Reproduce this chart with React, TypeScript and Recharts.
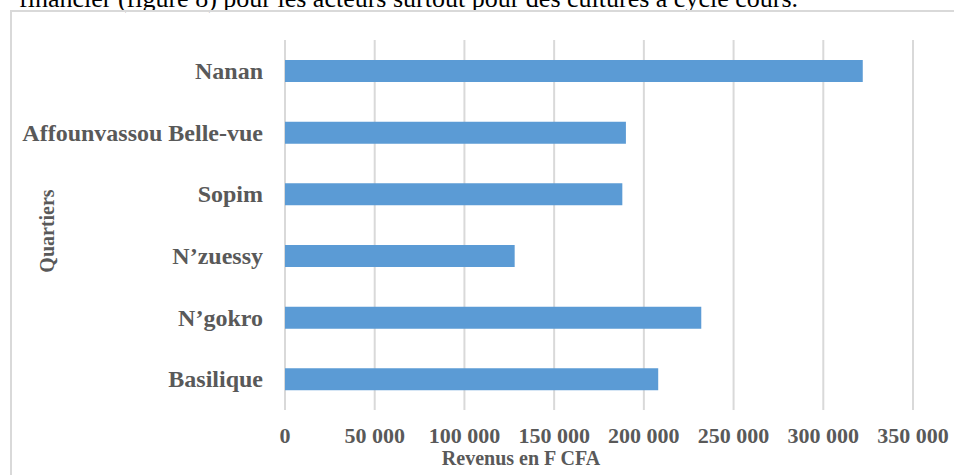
import React from 'react';
import { BarChart, Bar, XAxis, YAxis, CartesianGrid } from 'recharts';

// Revenus par quartier (F CFA)
const quartiers = [
  'Nanan',
  'Affounvassou Belle-vue',
  'Sopim',
  'N\u2019zuessy',
  'N\u2019gokro',
  'Basilique',
];
const revenus = [322000, 190000, 188000, 128000, 232000, 208000];
const xTicks = [0, 50000, 100000, 150000, 200000, 250000, 300000, 350000];

const data = quartiers.map((name, i) => ({ name, revenu: revenus[i] }));

const FONT = '"Liberation Serif", "Times New Roman", serif';
const TEXT = '#595959';

const fmt = (v: number) =>
  v === 0 ? '0' : String(v).replace(/\B(?=(\d{3})+(?!\d))/g, ' ');

const CategoryTick = ({ x, y, payload }: any) => (
  <text
    x={x - 14}
    y={y}
    dy={8}
    textAnchor="end"
    fontFamily={FONT}
    fontWeight="bold"
    fontSize={24}
    fill={TEXT}
  >
    {payload.value}
  </text>
);

const ValueTick = ({ x, y, payload }: any) => (
  <text
    x={x}
    y={y}
    dy={25}
    textAnchor="middle"
    fontFamily={FONT}
    fontWeight="bold"
    fontSize={22}
    fill={TEXT}
  >
    {fmt(payload.value)}
  </text>
);

export default function App() {
  return (
    <div
      style={{
        position: 'absolute',
        left: 0,
        top: 0,
        width: 954,
        height: 475,
        overflow: 'hidden',
        background: '#fff',
      }}
    >
      <svg width={954} height={20} style={{ position: 'absolute', left: 0, top: 0 }}>
        <text x={798} y={7} textAnchor="end" fontFamily={FONT} fontSize={26} fill="#000">
          financier (figure 8) pour les acteurs surtout pour des cultures à cycle cours.
        </text>
      </svg>
      <div
        style={{
          position: 'absolute',
          left: 10,
          top: 10,
          width: 980,
          height: 500,
          border: '2px solid #d9d9d9',
        }}
      />
      <div style={{ position: 'absolute', left: 0, top: 0 }}>
        <BarChart
          width={954}
          height={475}
          data={data}
          layout="vertical"
          margin={{ top: 40, right: 41, bottom: 5, left: 0 }}
        >
          <CartesianGrid horizontal={false} stroke="#d9d9d9" strokeWidth={2} />
          <XAxis
            type="number"
            domain={[0, 350000]}
            ticks={xTicks}
            axisLine={false}
            tickLine={false}
            height={60}
            tick={<ValueTick />}
            interval={0}
            label={{
              content: () => (
                <text
                  x={521}
                  y={465}
                  textAnchor="middle"
                  fontFamily={FONT}
                  fontWeight="bold"
                  fontSize={20}
                  fill={TEXT}
                >
                  Revenus en F CFA
                </text>
              ),
            }}
          />
          <YAxis
            type="category"
            dataKey="name"
            width={285}
            axisLine={false}
            tickLine={false}
            tick={<CategoryTick />}
            interval={0}
            label={{
              content: () => (
                <text
                  x={54}
                  y={231}
                  transform="rotate(-90 54 231)"
                  textAnchor="middle"
                  fontFamily={FONT}
                  fontWeight="bold"
                  fontSize={20}
                  fill={TEXT}
                >
                  Quartiers
                </text>
              ),
            }}
          />
          <Bar dataKey="revenu" fill="#5b9bd5" barSize={22} isAnimationActive={false} />
        </BarChart>
      </div>
    </div>
  );
}
